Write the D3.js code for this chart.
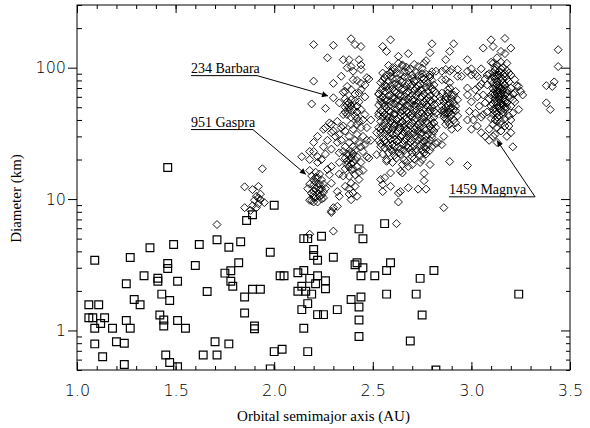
<!DOCTYPE html>
<html>
<head>
<meta charset="utf-8">
<script src="https://cdn.jsdelivr.net/npm/d3@7"></script>
<style>
body { margin: 0; background: #fff; }
</style>
</head>
<body>
<div id="chart"></div>
<script>
// tick values
const xTicks = [1.0, 1.5, 2.0, 2.5, 3.0, 3.5];
const yTicks = [1, 10, 100];

// near-Earth asteroids (squares): [a (AU), D (km)]
const neas = [
    [1.06,1.57],[1.11,1.57],[1.09,3.42],[1.06,1.25],[1.08,1.25],[1.14,1.25],[1.12,1.13],[1.09,1.04],
    [1.09,0.79],[1.13,0.63],[1.18,1.04],[1.20,0.82],[1.24,0.80],[1.24,0.55],[1.25,2.27],[1.25,1.19],
    [1.27,1.04],[1.27,3.59],[1.29,1.72],[1.32,1.57],[1.34,2.61],[1.37,4.26],[1.41,2.5],[1.41,2.37],
    [1.43,1.89],[1.42,1.31],[1.44,1.2],[1.44,1.08],[1.46,3.23],[1.46,2.96],[1.47,1.69],[1.49,4.51],
    [1.45,0.65],[1.47,0.57],[1.51,0.53],[1.51,2.37],[1.51,1.19],[1.55,1.04],[1.60,3.12],[1.62,4.51],
    [1.66,1.98],[1.64,0.65],[1.71,4.9],[1.70,0.82],[1.71,0.65],[1.77,4.3],[1.75,2.73],[1.78,2.85],
    [1.78,2.37],[1.79,2.17],[1.77,0.79],[1.83,4.73],[1.82,3.27],[1.85,1.8],[1.85,1.36],[1.89,2.06],
    [1.93,2.06],[1.90,1.08],[1.90,1.03],[1.86,6.87],[1.89,7.6],[1.98,3.94],[2.00,8.97],[2.00,0.69],
    [2.04,0.72],[2.03,2.61],[2.05,2.61],[1.98,0.51],[1.46,17.4],
    [2.56,6.5],[2.43,5.93],[2.45,4.98],[2.24,5.21],[2.15,5.0],[2.17,5.0],[2.20,4.13],[2.20,3.72],
    [2.22,3.42],[2.30,3.61],[2.12,2.75],[2.15,2.86],[2.18,2.49],[2.21,2.27],[2.22,2.61],[2.26,2.39],
    [2.26,2.08],[2.14,2.17],[2.12,1.99],[2.16,1.99],[2.19,1.89],[2.17,1.6],[2.14,1.44],[2.22,1.32],
    [2.25,1.32],[2.32,1.44],[2.15,1.04],[2.17,0.69],[2.41,3.16],[2.42,3.27],[2.45,3.0],[2.44,2.61],
    [2.51,2.61],[2.57,2.86],[2.59,3.27],[2.39,1.72],[2.44,1.8],[2.43,1.51],[2.43,1.2],[2.43,0.9],
    [2.57,1.89],[2.72,1.89],[2.74,2.49],[2.75,1.31],[2.81,2.86],[2.69,0.83],[3.24,1.89],[2.82,0.5]
];

// main-belt asteroids (diamonds): [a (AU), D (km)]
const hungarias = [
    [1.71,6.4],[1.85,12.4],[1.89,11.8],[1.92,12.5],[1.92,10.2],[1.93,9.9],[1.91,10.5],[1.95,9.4],
    [1.89,8.9],[1.85,8.6],[1.91,8.6],[1.88,8.2],[1.94,17],[1.90,9.8],[1.93,10.9],[1.92,9.2]
];

const innerBelt = [
    [2.20,150],[2.30,148],[2.27,119],[2.35,115],[2.38,115],[2.39,102],[2.43,115],[2.44,105],
    [2.39,166],[2.41,150],[2.44,145],[2.37,100],[2.40,94],[2.44,97],[2.47,84],[2.40,81],
    [2.20,79],[2.30,76],[2.44,76],[2.48,82],[2.36,66],[2.39,68],[2.44,68],[2.46,60],[2.43,64],
    [2.35,65],[2.19,53],[2.26,49],[2.30,59],[2.33,54],[2.38,54],[2.37,52],[2.38,50],[2.38,48],
    [2.37,55],[2.39,51],[2.42,51],[2.44,48],[2.46,44],[2.49,40],[2.42,41],[2.35,44],[2.32,39],
    [2.28,38],[2.26,35],[2.35,36],[2.39,37],[2.44,35],[2.47,35],[2.30,33],[2.33,31],[2.38,30],
    [2.42,31],[2.45,30],[2.49,28],[2.27,28],[2.32,27],[2.36,25],[2.40,25],[2.44,25],[2.25,25],
    [2.25,34],[2.22,30],[2.29,37],[2.20,27],[2.41,43],[2.43,55],[2.36,46],[2.33,22.5],[2.38,21.8],
    [2.42,21],[2.47,21],[2.38,20],[2.39,20.5],[2.37,19.5],[2.40,19],[2.37,18.3],[2.42,17.7],
    [2.39,16.8],[2.33,19],[2.29,17.7],[2.44,19],[2.48,20.5],[2.41,15.3],[2.38,14.9],[2.43,14.1],
    [2.39,13.2],[2.33,15.5],[2.36,12.5],[2.40,11.1],[2.38,10.9],[2.42,10.5],[2.32,11.4],[2.40,22],
    [2.36,17],[2.41,23.5],[2.45,16.5],[2.18,23],[2.20,23],[2.22,21],[2.18,20],[2.22,19],[2.24,20],
    [2.27,16.8],[2.28,15.3],[2.29,13.2],[2.26,22],[2.29,24],[2.14,21],
    [2.18,16.5],[2.19,15],[2.20,14],[2.21,13.5],[2.22,12.5],[2.21,12],[2.20,11.5],[2.22,11],
    [2.23,10.5],[2.24,10],[2.21,10.3],[2.19,11],[2.22,14.5],[2.23,13],[2.24,12],[2.25,11.3],
    [2.20,12.8],[2.18,13],[2.17,12],[2.23,15.5],[2.21,16],[2.24,14],[2.25,13],[2.19,9.7],
    [2.22,9.5],[2.26,12],[2.20,10.8],[2.23,11.8],[2.21,14.6],[2.24,10.7],[2.18,9.8],[2.20,10.3],
    [2.25,10.2],[2.29,8.1],[2.32,8.8],[2.33,10.5],[2.20,9.5],[2.29,7.9],[2.30,8.6],[2.18,5.4],
    [2.30,5.7],[2.39,9.9],[2.52,32],[2.53,28],[2.53,45],[2.53,63],
    [2.36,58],[2.39,57],[2.41,56],[2.36,50],[2.40,48],[2.42,46],[2.37,44],[2.39,42],[2.43,39],
    [2.40,34],[2.36,33],[2.41,28],[2.38,27],[2.34,28],[2.43,27],[2.46,26],[2.35,23],[2.39,23],
    [2.37,22],[2.41,20],[2.39,18.5],[2.36,20.5],[2.38,17.5],[2.40,17],[2.35,15],[2.43,16],
    [2.38,12],[2.41,12.5],[2.45,23],[2.47,28],[2.31,30],[2.29,32],[2.34,35],[2.42,37],[2.45,40],
    [2.41,63],[2.37,72],[2.42,80],[2.46,74],[2.34,86]
];

const middleCore = [
    [2.58,104],[2.63,108],[2.67,101],[2.71,106],[2.75,99],[2.61,97],
    [2.55,91],[2.60,94],[2.64,90],[2.68,95],[2.72,92],[2.77,89],[2.80,93],
    [2.56,84],[2.59,86],[2.62,82],[2.66,85],[2.70,83],[2.73,87],[2.76,82],[2.79,85],
    [2.54,77],[2.58,79],[2.61,75],[2.65,78],[2.68,76],[2.71,79],[2.74,75],[2.78,77],[2.81,74],
    [2.55,70],[2.57,72],[2.60,69],[2.63,71],[2.66,68],[2.69,72],[2.72,70],[2.75,67],[2.77,71],[2.80,69],
    [2.53,63],[2.56,66],[2.59,62],[2.62,65],[2.64,61],[2.67,64],[2.70,62],[2.73,65],[2.76,63],[2.79,61],[2.82,64],
    [2.54,58],[2.57,56],[2.60,59],[2.63,57],[2.65,55],[2.68,58],[2.71,56],[2.74,59],[2.77,57],[2.80,55],
    [2.53,52],[2.55,54],[2.58,51],[2.61,53],[2.64,50],[2.67,52],[2.69,54],[2.72,51],[2.75,53],[2.78,50],[2.81,52],
    [2.54,47],[2.57,49],[2.59,46],[2.62,48],[2.65,47],[2.68,45],[2.71,48],[2.74,46],[2.76,49],[2.79,47],[2.82,45],
    [2.53,43],[2.56,44],[2.58,42],[2.61,44],[2.63,41],[2.66,43],[2.70,42],[2.73,44],[2.75,41],[2.78,43],[2.81,42],
    [2.54,39],[2.57,40],[2.60,38],[2.62,40],[2.65,39],[2.68,37],[2.71,40],[2.74,38],[2.77,39],[2.80,37],
    [2.53,35],[2.55,36],[2.58,34],[2.61,36],[2.64,35],[2.67,34],[2.69,36],[2.72,35],[2.76,34],[2.79,36],[2.82,35],
    [2.54,32],[2.57,33],[2.60,31],[2.63,33],[2.66,32],[2.70,31],[2.73,33],[2.75,32],[2.78,31],[2.81,33],
    [2.55,29],[2.58,30],[2.61,28.5],[2.64,30],[2.67,29],[2.70,28],[2.72,30],[2.74,29],[2.77,28],[2.80,29.5],
    [2.54,26.5],[2.57,27],[2.60,26],[2.62,27.5],[2.65,26],[2.69,27],[2.71,25.5],[2.75,27],[2.78,26],[2.82,26.5],
    [2.56,24.5],[2.59,24],[2.63,25],[2.66,23.5],[2.68,24.5],[2.72,24],[2.76,25],[2.79,23.5],
    [2.55,22],[2.58,22.5],[2.61,21.5],[2.64,22],[2.70,22.5],[2.74,21.5],[2.77,22],
    [2.57,20],[2.62,20.5],[2.66,19.8],[2.71,20.2],
    [2.60,100],[2.65,103],[2.69,98],[2.73,102],[2.57,88],[2.62,91],[2.66,93],[2.70,88],[2.75,90],[2.79,88],
    [2.55,80],[2.60,82],[2.64,80],[2.68,84],[2.72,80],[2.75,85],[2.80,80],
    [2.56,74],[2.59,73],[2.63,75],[2.67,72],[2.70,74],[2.73,73],[2.76,76],[2.79,72],
    [2.54,67],[2.58,68],[2.61,66],[2.65,69],[2.68,66],[2.71,67],[2.74,68],[2.78,66],[2.81,67],
    [2.55,60],[2.58,61],[2.61,59],[2.63,62],[2.66,60],[2.69,60],[2.72,61],[2.75,60],[2.78,59],[2.81,58],
    [2.54,55],[2.56,57],[2.59,55],[2.62,56],[2.66,56],[2.70,57],[2.73,54],[2.76,55],[2.79,56],
    [2.56,51],[2.59,52],[2.63,51],[2.66,49],[2.68,51],[2.71,52],[2.74,50],[2.77,52],[2.80,50],
    [2.55,46],[2.58,47],[2.61,45],[2.64,46],[2.67,47],[2.70,45],[2.72,47],[2.75,45],[2.78,46],[2.81,47],
    [2.55,42],[2.57,43],[2.60,41],[2.64,43],[2.67,41],[2.69,43],[2.72,41],[2.76,42],[2.79,41],
    [2.56,38],[2.59,39],[2.61,37],[2.64,38],[2.66,37],[2.70,38],[2.73,37],[2.75,39],[2.78,38],[2.81,38],
    [2.54,34],[2.57,35],[2.60,34.5],[2.63,35],[2.66,35.5],[2.68,33],[2.71,34],[2.74,35],[2.77,33.5],[2.80,34],
    [2.56,31],[2.59,32],[2.62,31.5],[2.65,30.5],[2.68,31],[2.71,32],[2.74,31],[2.77,30],[2.80,31],
    [2.56,28],[2.59,28.5],[2.63,28],[2.66,27.5],[2.69,29],[2.73,28],[2.76,27.5],[2.79,28],
    [2.58,25.5],[2.61,25],[2.64,24],[2.67,25.5],[2.70,24.5],[2.74,25.5],[2.77,24],
    [2.60,23],[2.63,22.5],[2.67,22],[2.72,23],[2.75,23.5]
];

const middleBelt = [
    [2.55,145],[2.59,163],[2.57,133],[2.63,122],[2.68,128],[2.80,152],[2.91,152],[2.89,133],
    [2.87,115],[2.77,113],[2.79,130],[2.87,97],[2.90,97],[2.93,97],[2.85,81],[2.87,81],[2.89,70],
    [2.93,86],[2.82,94],[2.85,94],[2.89,94],[2.89,77],[2.95,86],[2.59,92],[2.65,105],[2.76,108],
    [2.85,64],[2.88,64],[2.92,66],[2.87,57],[2.89,54],[2.93,57],[2.91,48],[2.85,51],[2.87,45],
    [2.86,42],[2.89,42],[2.93,43],[2.92,38],[2.87,37],[2.90,34],[2.93,35],[2.85,26],[2.86,48],
    [2.88,52],[2.90,50],[2.87,60],[2.91,62],[2.84,60],[2.89,46],[2.92,47],[2.86,44],[2.88,39],
    [2.90,58],[2.84,56],
    [2.86,55],[2.88,58],[2.91,54],[2.87,50],[2.89,49],[2.92,51],[2.86,46],[2.90,44],[2.88,45],
    [2.91,40],[2.87,41],[2.89,37],[2.85,47],[2.90,62],[2.88,68],
    [2.54,14.1],[2.55,12.9],[2.55,11.4],[2.59,12.5],[2.56,14.5],[2.63,11.1],[2.68,12.2],[2.63,9.5],
    [2.62,6.5],[2.73,11.9],[2.77,11.9],[2.86,8.6],[2.89,19.3],[2.98,18],[2.76,22.5],[2.75,20],
    [2.70,21],[2.65,18.3],[2.60,19],[2.57,19.4],[2.68,17.7],[2.59,15.8],[2.65,15.8],[2.52,21.8],
    [2.54,25],[2.76,15.7],[2.76,13.8],[2.83,27],[2.80,25],[2.86,30],[2.67,19],[2.70,18.3],
    [2.74,19],[2.79,18.3],[2.64,16.3],[2.64,11.4]
];

const outerBelt = [
    [3.06,141],[3.10,163],[3.17,167],[3.11,145],[3.20,141],[3.15,133],[3.13,119],[3.15,110],
    [3.11,108],[3.05,98],[3.00,88],[3.03,86],[3.08,88],[2.98,115],[3.17,128],[3.18,108],[3.19,91],
    [3.20,88],[3.22,81],[3.24,72],[3.25,66],[3.22,64],[3.21,57],[3.20,51],[3.21,45],[3.20,40],
    [3.19,36],[3.20,32],[3.18,30],[3.23,73],[3.26,62],[3.22,55],[3.24,48],[3.21,25],
    [2.98,94],[3.00,98],[3.02,89],[2.98,70],[3.02,68],[3.04,72],[2.98,62],[3.00,55],[3.03,60],
    [3.04,51],[2.99,46.5],[3.02,45],[3.01,40],[3.05,42],[2.98,40],[3.03,36],[3.00,34],[3.05,32],
    [3.07,30],[3.11,30],[3.09,28],[3.13,27],
    [3.10,110],[3.13,105],[3.16,100],[3.12,96],[3.15,92],[3.18,95],[3.09,90],[3.11,86],[3.14,84],
    [3.17,86],[3.13,78],[3.16,76],[3.19,78],[3.10,80],[3.08,74],[3.12,72],[3.15,70],[3.18,68],
    [3.14,65],[3.11,64],[3.17,62],[3.13,60],[3.16,58],[3.09,58],[3.19,60],[3.12,55],[3.15,53],
    [3.18,54],[3.10,51],[3.14,49],[3.17,48],[3.12,46],[3.08,46],[3.16,44],[3.13,42],[3.19,43],
    [3.10,41],[3.15,39],[3.11,37],[3.17,36],[3.13,35],[3.09,34],[3.15,33],[3.12,31],[3.14,88],
    [3.16,66],[3.13,67],[3.11,69],[3.14,57],[3.12,63],[3.15,61],[3.14,73],[3.13,52],[3.16,71],
    [3.12,82],[3.17,55],[3.11,48],[3.18,50],[3.06,62],[3.07,54],[3.07,82],[3.06,44],[3.20,70],
    [3.21,63],[3.05,75],
    [3.12,100],[3.15,98],[3.14,94],[3.11,92],[3.17,90],[3.13,88],[3.16,82],[3.12,86],[3.15,80],
    [3.18,82],[3.13,74],[3.11,76],[3.17,74],[3.14,70],[3.16,68],[3.12,67],[3.18,64],[3.15,64],
    [3.13,63],[3.10,62],[3.17,58],[3.14,60],[3.12,58],[3.15,56],[3.13,55],[3.16,52],[3.11,53],
    [3.14,51],[3.17,50],[3.12,49],[3.15,47],[3.13,45],[3.16,46],[3.14,43],[3.11,44],[3.17,41],
    [3.13,39],[3.15,37],[3.12,40],
    [3.44,137],[3.44,102],[3.38,73],[3.42,78],[3.41,72],[3.38,54],[3.40,48]
];

// labelled asteroids: underline start/end and arrow target, in data units
const labels = [
    { name: "234 Barbara", start: [1.578, 87], elbow: [1.913, 87], target: [2.273, 61] },
    { name: "951 Gaspra", start: [1.578, 33.8], elbow: [1.892, 33.8], target: [2.161, 15.4] },
    { name: "1459 Magnya", start: [2.886, 10.4], elbow: [3.323, 10.4], target: [3.130, 27.9] }
];

var margin = { top: 5, right: 20, bottom: 58, left: 77 },
    width = 590 - margin.left - margin.right,
    height = 428 - margin.top - margin.bottom;

var svg = d3.select("#chart").append("svg")
    .attr("width", 590)
    .attr("height", 428);

var defs = svg.append("defs");
defs.append("clipPath").attr("id", "plot-clip")
    .append("rect").attr("width", width).attr("height", height);
defs.append("marker")
    .attr("id", "arrow")
    .attr("viewBox", "0 0 10 10")
    .attr("refX", 10).attr("refY", 5)
    .attr("markerWidth", 10).attr("markerHeight", 6)
    .attr("markerUnits", "userSpaceOnUse")
    .attr("orient", "auto")
    .append("path").attr("d", "M0,0L10,5L0,10z").attr("fill", "#000");

var g = svg.append("g").attr("transform", "translate(" + margin.left + "," + margin.top + ")");

var x = d3.scaleLinear().domain([1.0, 3.5]).range([0, width]);
var y = d3.scaleLog().domain([0.5, 300]).range([height, 0]);

var xMinor = d3.range(10, 36).map(function (d) { return d / 10; });
var yMinor = [0.5, 0.6, 0.7, 0.8, 0.9, 2, 3, 4, 5, 6, 7, 8, 9, 20, 30, 40, 50, 60, 70, 80, 90, 200, 300];

var diamond = {
    draw: function (ctx, size) {
        var r = Math.sqrt(size) / 2;
        ctx.moveTo(0, -r); ctx.lineTo(r, 0); ctx.lineTo(0, r); ctx.lineTo(-r, 0); ctx.closePath();
    }
};

// points
var pts = g.append("g").attr("clip-path", "url(#plot-clip)");

pts.selectAll("path.nea")
    .data(neas)
    .enter().append("path")
    .attr("class", "nea")
    .attr("d", d3.symbol().type(d3.symbolSquare).size(60))
    .attr("transform", function (d) { return "translate(" + x(d[0]) + "," + y(d[1]) + ")"; })
    .attr("fill", "none")
    .attr("stroke", "#000")
    .attr("stroke-width", 1.2);

var belt = hungarias.concat(innerBelt, middleCore, middleBelt, outerBelt);
pts.selectAll("path.mb")
    .data(belt)
    .enter().append("path")
    .attr("class", "mb")
    .attr("d", d3.symbol().type(diamond).size(64))
    .attr("transform", function (d) { return "translate(" + x(d[0]) + "," + y(d[1]) + ")"; })
    .attr("fill", "none")
    .attr("stroke", "#000")
    .attr("stroke-width", 0.9);

// axes
function styleAxis(sel) {
    sel.select(".domain").remove();
    sel.selectAll("line").attr("stroke", "#000");
    sel.selectAll("text")
        .attr("font-family", "DejaVu Sans")
        .attr("font-weight", 200)
        .attr("font-size", 16)
        .attr("fill", "#000");
}

g.append("g").attr("transform", "translate(0," + height + ")")
    .call(d3.axisBottom(x).tickValues(xTicks).tickFormat(d3.format(".1f")).tickSize(-8).tickPadding(15))
    .call(styleAxis);
g.append("g").attr("transform", "translate(0," + height + ")")
    .call(d3.axisBottom(x).tickValues(xMinor).tickFormat("").tickSize(-4))
    .call(styleAxis);
g.append("g")
    .call(d3.axisTop(x).tickValues(xTicks).tickFormat("").tickSize(-8))
    .call(styleAxis);
g.append("g")
    .call(d3.axisTop(x).tickValues(xMinor).tickFormat("").tickSize(-4))
    .call(styleAxis);

g.append("g")
    .call(d3.axisLeft(y).tickValues(yTicks).tickFormat(d3.format("d")).tickSize(9).tickPadding(2))
    .call(styleAxis);
g.append("g")
    .call(d3.axisLeft(y).tickValues(yMinor).tickFormat("").tickSize(-5))
    .call(styleAxis);
g.append("g").attr("transform", "translate(" + width + ",0)")
    .call(d3.axisRight(y).tickValues(yTicks).tickFormat("").tickSize(-9))
    .call(styleAxis);
g.append("g").attr("transform", "translate(" + width + ",0)")
    .call(d3.axisRight(y).tickValues(yMinor).tickFormat("").tickSize(-4))
    .call(styleAxis);

g.append("rect")
    .attr("width", width).attr("height", height)
    .attr("fill", "none").attr("stroke", "#000").attr("stroke-width", 1);

// axis titles
g.append("text")
    .attr("x", width / 2).attr("y", height + 51)
    .attr("text-anchor", "middle")
    .attr("font-family", "Liberation Serif").attr("font-size", 15)
    .text("Orbital semimajor axis (AU)");

g.append("text")
    .attr("transform", "translate(-56," + (height / 2 + 11) + ") rotate(-90)")
    .attr("text-anchor", "middle")
    .attr("font-family", "Liberation Serif").attr("font-size", 15)
    .text("Diameter (km)");

// annotations
var ann = g.append("g");
labels.forEach(function (l) {
    ann.append("polyline")
        .attr("points", [l.start, l.elbow, l.target].map(function (p) { return x(p[0]) + "," + y(p[1]); }).join(" "))
        .attr("fill", "none")
        .attr("stroke", "#000")
        .attr("stroke-width", 1)
        .attr("marker-end", "url(#arrow)");
    ann.append("text")
        .attr("x", x(l.start[0]))
        .attr("y", y(l.start[1]) - 3)
        .attr("font-family", "Liberation Serif").attr("font-size", 14)
        .text(l.name);
});
</script>
</body>
</html>
